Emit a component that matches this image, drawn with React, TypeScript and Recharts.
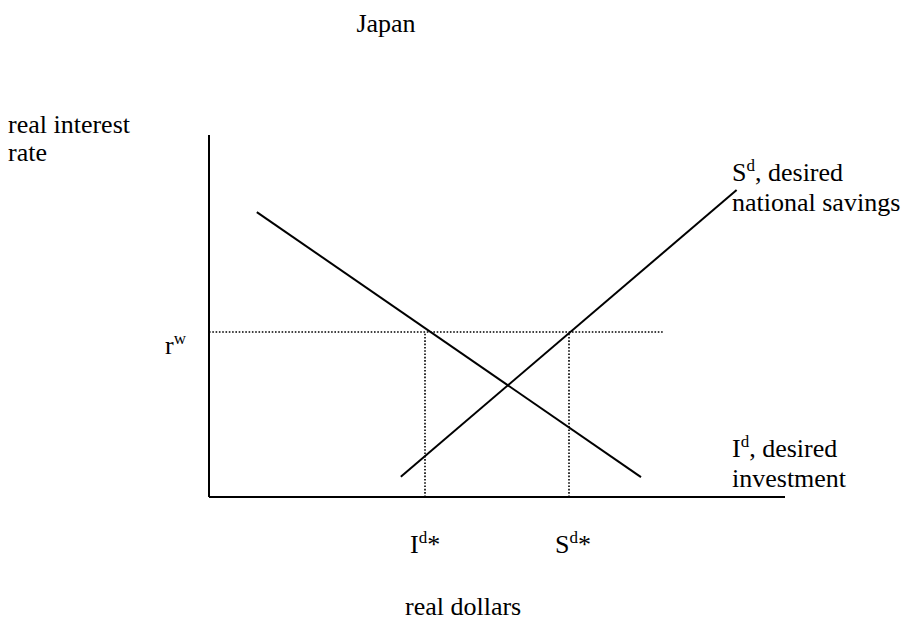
import { ComposedChart, Line, ReferenceLine, XAxis, YAxis } from "recharts";

// axes run 0..100 on both sides, no numeric ticks in the original sketch
const investmentLine = [
  { q: 8.3, r: 78.7 },
  { q: 75, r: 5.5 },
];
const savingsLine = [
  { q: 33.3, r: 5.6 },
  { q: 91.6, r: 84.8 },
];
const worldRate = 45.6;
const rateGuideEnd = 78.8;
const investmentStar = 37.5;
const savingsStar = 62.5;

const FONT = "'Liberation Serif', 'Times New Roman', serif";
const dotted = { stroke: "#000", strokeWidth: 1.6, strokeDasharray: "1.6 1.7" };

function Labels() {
  const t = { fontFamily: FONT, fontSize: 26, fill: "#000" };
  const sup = { fontSize: 17 };
  return (
    <g>
      <text x={386} y={32} textAnchor="middle" {...t}>Japan</text>
      <text x={8} y={133} {...t}>real interest</text>
      <text x={8} y={161} {...t}>rate</text>
      <text x={165} y={354} {...t}>
        r<tspan dy={-10} {...sup}>w</tspan>
      </text>
      <text x={732} y={181} {...t}>
        S<tspan dy={-10} {...sup}>d</tspan>
        <tspan dy={10}>, desired</tspan>
      </text>
      <text x={732} y={211} {...t}>national savings</text>
      <text x={732} y={457} {...t}>
        I<tspan dy={-10} {...sup}>d</tspan>
        <tspan dy={10}>, desired</tspan>
      </text>
      <text x={732} y={487} {...t}>investment</text>
      <text x={410} y={553} {...t}>
        I<tspan dy={-10} {...sup}>d</tspan>
        <tspan dy={10}>*</tspan>
      </text>
      <text x={555} y={553} {...t}>
        S<tspan dy={-10} {...sup}>d</tspan>
        <tspan dy={10}>*</tspan>
      </text>
      <text x={405} y={615} {...t}>real dollars</text>
    </g>
  );
}

export default function App() {
  return (
    <div style={{ position: "absolute", left: 0, top: 0, width: 909, height: 622, background: "#fff" }}>
      <ComposedChart width={909} height={622} margin={{ top: 135, right: 124, bottom: 123, left: 207 }}>
        <XAxis
          type="number"
          dataKey="q"
          domain={[0, 100]}
          height={2}
          tick={false}
          tickLine={false}
          axisLine={{ stroke: "#000", strokeWidth: 2 }}
        />
        <YAxis
          type="number"
          domain={[0, 100]}
          width={2}
          tick={false}
          tickLine={false}
          axisLine={{ stroke: "#000", strokeWidth: 2 }}
        />
        <ReferenceLine segment={[{ x: 0, y: worldRate }, { x: rateGuideEnd, y: worldRate }]} {...dotted} />
        <ReferenceLine segment={[{ x: investmentStar, y: 0 }, { x: investmentStar, y: worldRate }]} {...dotted} />
        <ReferenceLine segment={[{ x: savingsStar, y: 0 }, { x: savingsStar, y: worldRate }]} {...dotted} />
        <Line
          data={investmentLine}
          dataKey="r"
          type="linear"
          stroke="#000"
          strokeWidth={2}
          dot={false}
          isAnimationActive={false}
        />
        <Line
          data={savingsLine}
          dataKey="r"
          type="linear"
          stroke="#000"
          strokeWidth={2}
          dot={false}
          isAnimationActive={false}
        />
        <Labels />
      </ComposedChart>
    </div>
  );
}
